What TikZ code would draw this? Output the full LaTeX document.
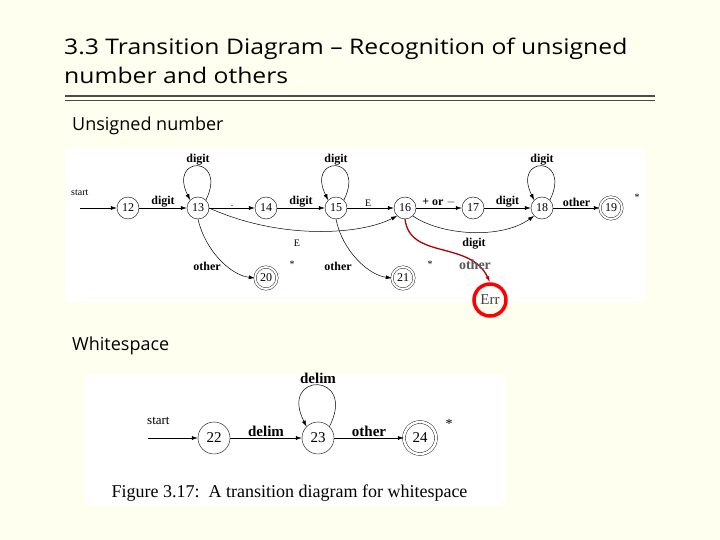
\documentclass[tikz,border=0pt]{standalone}
\usepackage{fontspec}
\setmainfont{Liberation Serif}
\newfontfamily\titlefont{Open Sans}
\usetikzlibrary{arrows.meta}
\begin{document}
\begin{tikzpicture}[x=1pt,y=-1pt,
 st/.style={draw,circle,minimum size=22pt,inner sep=0pt,font=\fontsize{12}{12}\selectfont},
 acc/.style={st,double,double distance=2pt},
 stb/.style={draw,circle,minimum size=32pt,inner sep=0pt,font=\fontsize{15}{15}\selectfont},
 accb/.style={stb,double,double distance=2.5pt},
 ed/.style={-{Latex[length=6pt,width=4pt]},line width=0.5pt},
 lb/.style={font=\bfseries\fontsize{12}{12}\selectfont,inner sep=1pt},
 lbb/.style={font=\bfseries\fontsize{15}{15}\selectfont,inner sep=1pt},
 sm/.style={font=\fontsize{10}{10}\selectfont,inner sep=1pt},
 hd/.style={font=\titlefont\fontsize{18}{18}\selectfont,anchor=west,inner sep=0pt}]
\useasboundingbox[fill={rgb,255:red,255;green,255;blue,240}] (0,0) rectangle (720,540);
\node[hd,xscale=1.15,transform shape] (t1) at (64,49) {\fontsize{21.5}{21.5}\selectfont 3.3 Transition Diagram – Recognition of unsigned};
\node[hd,xscale=1.15,transform shape] (t2) at (64,75) {\fontsize{21.5}{21.5}\selectfont number and others};
\draw[line width=2pt,gray!60!black] (65,96) -- (655,96);
\draw[line width=1pt,gray!60!black] (65,101) -- (655,101);
\node[hd] (h1) at (72,126) {Unsigned number};
\node[hd] (h2) at (72,346) {Whitespace};
\fill[white] (65,148) rectangle (645,302);
\fill[white] (85,375) rectangle (505,505);
% top diagram
\node[st] (n12) at (128,208) {12};
\node[st] (n13) at (198,208) {13};
\node[st] (n14) at (266,208) {14};
\node[st] (n15) at (336,208) {15};
\node[st] (n16) at (405,208) {16};
\node[st] (n17) at (473,208) {17};
\node[st] (n18) at (542,208) {18};
\node[acc] (n19) at (611,208) {19};
\node[acc] (n20) at (266,278) {20};
\node[acc] (n21) at (403,278) {21};
\node[draw=red,line width=3.5pt,circle,minimum size=32pt,inner sep=0pt,font=\fontsize{15}{15}\selectfont,text=black!75] (err) at (490,300) {Err};
\coordinate (s1) at (80,208);
\node[sm,anchor=south west] (startA) at (70,197) {start};
\draw[ed] (s1) -- (n12);
\draw[ed] (n12) -- node[lb,above] {digit} (n13);
\draw[ed] (n13) -- node[sm,above] {.} (n14);
\draw[ed] (n14) -- node[lb,above] {digit} (n15);
\draw[ed] (n15) -- node[sm,above,pos=0.45] {E} (n16);
\draw[ed] (n16) -- node[lb,above] {+ or $-$} (n17);
\draw[ed] (n17) -- node[lb,above] {digit} (n18);
\draw[ed] (n18) -- node[lb,above] {other} (n19);
\draw[ed] (n13.north east) .. controls +(22,-45) and +(-22,-45) .. (n13.north west) node[lb,pos=0.5,above] {digit};
\draw[ed] (n15.north east) .. controls +(22,-45) and +(-22,-45) .. (n15.north west) node[lb,pos=0.5,above] {digit};
\draw[ed] (n18.north east) .. controls +(22,-45) and +(-22,-45) .. (n18.north west) node[lb,pos=0.5,above] {digit};
\draw[ed] (n13.east) .. controls (280,240) and (360,235) .. (n16.south west);
\node[sm] (lE) at (297,243) {E};
\draw[ed] (n16.south east) .. controls (440,235) and (500,240) .. (n18.south west);
\node[lb] (ld) at (474,244) {digit};
\draw[ed] (n13.south) .. controls (205,250) and (230,275) .. (n20.west);
\node[lb] (lo1) at (207,266) {other};
\draw[ed] (n15.south) .. controls (342,250) and (368,275) .. (n21.west);
\node[lb] (lo2) at (338,266) {other};
\node[sm] at (292,264) {*};
\node[sm] at (430,264) {*};
\node[sm] at (637,197) {*};
\draw[-{Latex[length=6pt,width=4pt]},red!70!black,line width=1.3pt] (n16.south) .. controls (410,260) and (470,240) .. (err.north);
\node[font=\bfseries\fontsize{14}{14}\selectfont,text=black!65,inner sep=0pt] (lo3) at (475,265) {other};
% bottom diagram
\node[stb] (n22) at (214,438) {22};
\node[stb] (n23) at (318,438) {23};
\node[accb] (n24) at (420,438) {24};
\coordinate (s2) at (148,438);
\node[sm,font=\fontsize{13}{13}\selectfont,anchor=south west] at (146,426) {start};
\draw[ed] (s2) -- (n22);
\draw[ed] (n22) -- node[lbb,above] {delim} (n23);
\draw[ed] (n23) -- node[lbb,above] {other} (n24);
\draw[ed] (n23.north east) .. controls +(28,-55) and +(-28,-55) .. (n23.north west) node[lbb,pos=0.5,above] {delim};
\node[sm,font=\fontsize{14}{14}\selectfont] at (449,424) {*};
\node[font=\fontsize{18}{18}\selectfont,anchor=west] (cap) at (108,493) {Figure 3.17:\ \ A transition diagram for whitespace};
\end{tikzpicture}
\end{document}
